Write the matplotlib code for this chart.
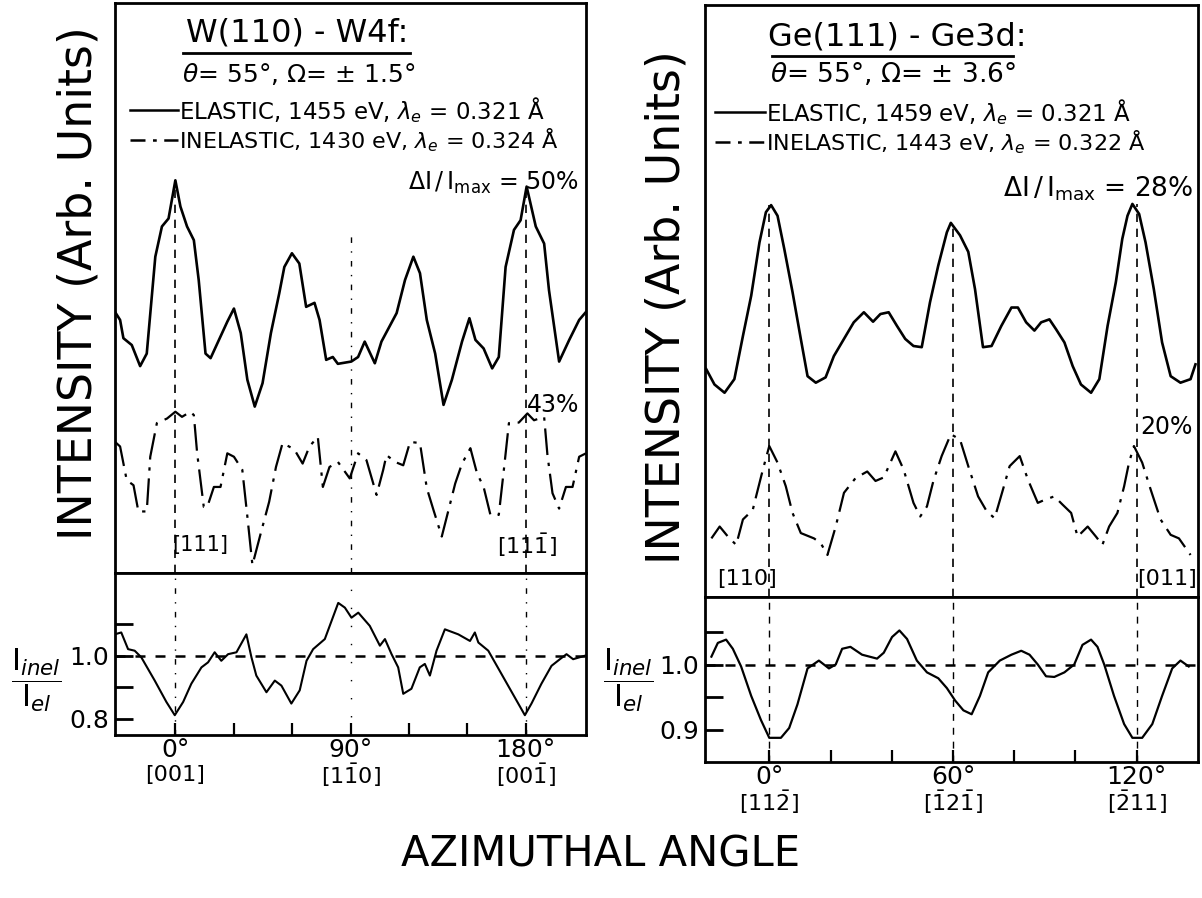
import numpy as np
import matplotlib
matplotlib.use("Agg")
import matplotlib.pyplot as plt
from matplotlib.transforms import blended_transform_factory

plt.rcParams['font.family'] = ['DejaVu Sans']
plt.rcParams['mathtext.fontset'] = 'dejavusans'

# ---- W(110) - W4f : azimuthal scans (arb. units, 0-100) ----
w_el_ang = [-31, -28.4, -26.7, -22.4, -18.1, -14.7, -10.3, -6.9, -3.5, 0, 2.6, 6.0, 9.5, 12.0,
            15.5, 18.1, 22.4, 26.7, 30.1, 33.6, 37.0, 40.8, 44.8, 49.1, 53.4, 56.0, 59.9, 63.7,
            67.2, 71.5, 74.1, 77.5, 80.9, 83.5, 90.4, 93.9, 97.3, 102.5, 105.9, 113.7, 118.0,
            122.3, 125.7, 129.2, 133.5, 137.8, 142.1, 147.3, 151.1, 154.2, 158.4, 162.8, 166.2,
            169.7, 174.0, 177.4, 180.5, 185.2, 189.5, 192.0, 197.2, 202.4, 207.5, 211]
w_el = [45.8, 44.4, 41.2, 40.0, 36.3, 38.5, 55.5, 60.8, 62.2, 68.9, 64.3, 60.8, 58.4, 51.4,
        38.5, 37.7, 40.9, 44.1, 46.4, 42.1, 33.9, 29.2, 33.3, 42.1, 49.1, 53.7, 56.1, 54.3,
        46.7, 47.4, 44.4, 37.4, 37.9, 36.7, 37.1, 37.9, 40.6, 36.8, 40.6, 45.6, 51.4,
        55.5, 52.6, 44.4, 38.5, 29.5, 33.9, 40.6, 44.7, 40.9, 39.4, 35.9, 37.9,
        53.7, 60.2, 61.9, 67.8, 60.8, 57.8, 49.6, 37.1, 40.9, 44.4, 45.8]

w_inel_ang = [-31, -28.4, -25.0, -21.5, -19.0, -14.7, -12.9, -9.5, -4.3, 0, 3.4, 7.8, 9.5, 11.2,
              14.6, 16.4, 19.8, 23.2, 26.7, 30.1, 34.4, 37.0, 39.6, 43.9, 48.2, 51.7, 55.1,
              61.1, 65.4, 68.9, 73.2, 75.8, 79.2, 83.5, 89.6, 93.9, 98.2, 103.4, 106.8, 108.5,
              112.8, 117.1, 120.6, 125.7, 129.2, 132.6, 136.9, 140.4, 143.8, 147.3, 151.6,
              155.0, 158.4, 161.9, 166.2, 168.8, 171.4, 176.5, 180.9, 184.3, 189.5, 191.2,
              193.8, 197.2, 200.7, 204.1, 207.5, 211]
w_inel = [23.0, 22.2, 16.3, 15.4, 10.8, 10.8, 20.4, 26.3, 27.1, 28.3, 27.4, 28.3, 27.7, 21.0,
          11.6, 11.6, 15.1, 15.1, 21.0, 20.4, 18.1, 9.9, 1.4, 7.0, 12.5, 18.6, 22.8,
          21.7, 19.2, 22.2, 23.9, 15.1, 18.6, 19.5, 16.6, 21.0, 19.8, 13.7, 18.1, 20.7,
          19.5, 18.9, 23.0, 22.8, 14.9, 11.1, 6.4, 11.1, 15.7, 19.2, 21.9,
          17.5, 15.1, 10.2, 10.2, 18.1, 26.3, 26.4, 28.0, 26.8, 27.4, 20.7,
          14.0, 11.3, 15.1, 15.1, 20.4, 21.0]

w_ratio_ang = [-31.2, -27.8, -24.3, -20.9, -17.5, -10.6, -4.6, -0.3, 4.0, 8.2, 13.4, 16.8, 20.2,
               23.6, 27.1, 31.4, 36.5, 39.1, 41.6, 46.8, 51.1, 54.5, 59.6, 63.9, 67.4, 70.8,
               76.8, 83.7, 87.1, 90.5, 94.0, 99.9, 105.1, 107.7, 111.1, 114.5, 117.1, 121.3,
               125.6, 128.2, 130.8, 134.2, 138.5, 145.4, 151.4, 153.9, 155.7, 160.8, 179.6,
               183.0, 188.1, 193.3, 197.6, 201.0, 204.4, 210.4]
w_ratio = [1.068, 1.074, 1.021, 1.016, 0.995, 0.921, 0.853, 0.811, 0.853, 0.911, 0.963, 0.979, 1.011,
           0.984, 1.005, 1.011, 1.068, 0.995, 0.937, 0.884, 0.921, 0.905, 0.848, 0.890, 0.984, 1.021,
           1.053, 1.168, 1.153, 1.121, 1.137, 1.095, 1.032, 1.053, 1.005, 0.963, 0.879, 0.895,
           0.963, 0.974, 0.937, 1.016, 1.084, 1.068, 1.047, 1.074, 1.042, 1.016, 0.811,
           0.848, 0.911, 0.968, 0.989, 1.005, 0.989, 1.0]

# ---- Ge(111) - Ge3d ----
ge_el_ang = [-20.6, -17.9, -14.6, -11.4, -8.6, -5.9, -3.2, -1.1, 0.6, 2.7, 4.9, 7.6, 10.3, 12.5,
             15.2, 18.4, 21.1, 24.4, 27.6, 30.9, 33.9, 36.3, 39.0, 41.7, 44.4, 47.1, 49.8, 52.5,
             55.2, 58.0, 59.3, 62.3, 65.0, 67.2, 69.8, 72.6, 75.8, 79.1, 81.2, 83.9, 86.6, 88.8,
             91.5, 93.7, 96.4, 99.1, 101.8, 105.1, 107.8, 110.5, 113.2, 115.3, 117.0, 118.6,
             120.8, 122.9, 125.6, 128.3, 131.1, 134.3, 137.6, 139.2]
ge_el = [38.5, 35.9, 34.5, 36.8, 44.1, 50.9, 59.9, 65.0, 66.2, 64.4, 58.8, 51.5, 43.6, 37.3,
         36.2, 37.1, 40.7, 43.6, 46.4, 48.1, 46.5, 47.8, 48.1, 45.8, 43.6, 42.4, 42.2, 49.8,
         56.0, 61.6, 63.2, 61.1, 58.3, 52.0, 42.2, 42.4, 45.8, 48.9, 48.9, 46.4, 45.0, 46.4,
         46.9, 45.2, 43.0, 39.0, 35.9, 34.5, 36.8, 45.8, 53.2, 60.5, 64.4, 66.4,
         64.7, 59.9, 52.0, 43.0, 37.3, 36.2, 36.8, 39.3]

ge_inel_ang = [-18.9, -16.2, -13.5, -10.8, -8.6, -5.4, -4.3, -2.1, 0, 2.7, 5.4, 7.6, 10.3, 14.6,
               16.8, 19.0, 21.7, 24.4, 28.2, 32.0, 34.7, 37.4, 41.2, 43.9, 47.1, 49.3, 51.5,
               53.6, 56.3, 59.3, 62.3, 65.0, 68.2, 71.0, 73.6, 76.3, 78.5, 81.8, 84.5, 87.7,
               89.9, 93.1, 95.8, 98.6, 100.7, 104.0, 106.7, 108.8, 111.0, 113.7, 115.9, 117.5,
               119.1, 121.8, 124.6, 127.8, 131.1, 133.8, 137.6]
ge_inel = [9.9, 11.9, 10.2, 8.8, 13.1, 14.7, 17.0, 21.5, 25.5, 22.7, 18.7, 14.2, 10.8, 9.9,
           9.1, 7.1, 11.9, 17.6, 20.1, 21.2, 19.6, 20.2, 24.6, 21.5, 15.9, 13.6, 15.3,
           19.6, 23.8, 27.5, 26.6, 22.1, 17.0, 14.5, 13.3, 18.1, 22.1, 23.8, 19.8, 15.9,
           16.4, 17.0, 15.6, 14.2, 10.2, 11.9, 10.2, 8.8, 11.9, 14.2, 18.7, 22.7,
           25.5, 22.7, 18.1, 13.1, 10.5, 9.9, 7.1]

ge_ratio_ang = [-18.9, -16.8, -14.1, -11.9, -9.2, -5.9, -2.7, 0, 3.8, 6.5, 9.2, 12.5, 16.2, 19.5,
                21.7, 23.8, 26.5, 30.3, 35.2, 37.4, 40.1, 42.5, 45.0, 48.2, 51.5, 55.2, 58.0,
                60.7, 63.4, 66.1, 68.8, 71.5, 75.3, 79.1, 82.3, 85.0, 87.7, 90.4, 93.1, 96.4,
                99.6, 102.3, 105.1, 107.2, 109.4, 112.6, 115.9, 118.6, 121.8, 125.1, 128.3,
                131.6, 134.3, 137.0]
ge_ratio = [1.012, 1.033, 1.038, 1.024, 0.997, 0.952, 0.915, 0.888, 0.888, 0.903, 0.939, 0.994,
            1.006, 0.994, 1.0, 1.024, 1.027, 1.015, 1.009, 1.018, 1.042, 1.052, 1.039, 1.006,
            0.988, 0.979, 0.964, 0.945, 0.930, 0.924, 0.952, 0.988, 1.006, 1.015, 1.021, 1.015,
            1.0, 0.982, 0.981, 0.988, 1.0, 1.030, 1.038, 1.027, 1.0, 0.952, 0.909, 0.888,
            0.888, 0.909, 0.952, 0.994, 1.006, 0.997]

# reference azimuths and their labels
w_marks = [0, 90, 180]
w_dirs = ['[001]', r'$[1\bar{1}0]$', r'$[00\bar{1}]$']
ge_marks = [0, 60, 120]
ge_dirs = [r'$[11\bar{2}]$', r'$[\bar{1}2\bar{1}]$', r'$[\bar{2}11]$']

INEL_DASH = (0, (12, 3.5, 1.5, 3.5))
RATIO_LBL = r'$\dfrac{\mathrm{I}_{inel}}{\mathrm{I}_{el}}$'

fig = plt.figure(figsize=(12.02, 8.98), dpi=100)
ax_wt = fig.add_axes([0.0957, 0.3619, 0.3918, 0.6347])
ax_wb = fig.add_axes([0.0957, 0.1815, 0.3918, 0.1804])
ax_gt = fig.add_axes([0.5865, 0.3352, 0.4101, 0.6592])
ax_gb = fig.add_axes([0.5865, 0.1514, 0.4101, 0.1837])

for ax in (ax_wt, ax_wb, ax_gt, ax_gb):
    for s in ax.spines.values():
        s.set_linewidth(2)

# ---------------- left top ----------------
ax_wt.plot(w_el_ang, w_el, color='black', lw=1.9)
ax_wt.plot(w_inel_ang, w_inel, color='black', lw=1.6, linestyle=INEL_DASH)
ax_wt.vlines([0, 180], 0, [68.9, 67.8], colors='black', lw=1.2, linestyles=(0, (5, 4)))
ax_wt.vlines([90], 0, 60, colors='black', lw=1.0, linestyles=(0, (4, 6, 1, 6)))
ax_wt.set_xlim(-31, 211)
ax_wt.set_ylim(0, 100)
ax_wt.set_xticks([])
ax_wt.set_yticks([])

t = ax_wt.transAxes
ax_wt.text(0.386, 0.947, 'W(110) - W4f:', transform=t, ha='center', va='center', fontsize=23)
ax_wt.plot([0.144, 0.626], [0.912, 0.912], transform=t, color='black', lw=2)
ax_wt.text(0.389, 0.875, r'$\theta$= 55°, $\Omega$= ± 1.5°', transform=t,
           ha='center', va='center', fontsize=18)
ax_wt.plot([0.032, 0.134], [0.812, 0.812], transform=t, color='black', lw=1.8)
ax_wt.text(0.136, 0.812, r'ELASTIC, 1455 eV, $\lambda_e$ = 0.321 Å', transform=t,
           ha='left', va='center', fontsize=16.5)
ax_wt.plot([0.032, 0.134], [0.760, 0.760], transform=t, color='black', lw=1.8, linestyle=(0, (6, 3, 1.5, 3)))
ax_wt.text(0.136, 0.760, r'INELASTIC, 1430 eV, $\lambda_e$ = 0.324 Å', transform=t,
           ha='left', va='center', fontsize=16)
ax_wt.text(0.985, 0.684, r'$\Delta\mathrm{I}\,/\,\mathrm{I}_{\mathrm{max}}$ = 50%', transform=t,
           ha='right', va='center', fontsize=17)
ax_wt.text(0.985, 0.295, '43%', transform=t, ha='right', va='center', fontsize=17)
ax_wt.text(0.180, 0.049, '[111]', transform=t, ha='center', va='center', fontsize=15)
ax_wt.text(0.875, 0.049, r'$[11\bar{1}]$', transform=t, ha='center', va='center', fontsize=16)

# ---------------- left bottom ----------------
ax_wb.plot(w_ratio_ang, w_ratio, color='black', lw=1.5)
ax_wb.axhline(1.0, color='black', lw=1.8, linestyle=(0, (4, 4)))
ax_wb.vlines([0, 180], 0.748, 1.263, colors='black', lw=1.0, linestyles=(0, (4, 6, 1, 6)))
ax_wb.vlines([90], 0.748, 1.263, colors='black', lw=1.0, linestyles=(0, (1, 12)))
ax_wb.set_xlim(-31, 211)
ax_wb.set_ylim(0.748, 1.263)
ax_wb.set_xticks([0, 30, 60, 90, 120, 150, 180])
ax_wb.set_xticklabels(['0°', '', '', '90°', '', '', '180°'], fontsize=18)
ax_wb.set_yticks([0.8, 0.9, 1.0, 1.1])
ax_wb.set_yticklabels(['0.8', '', '1.0', ''], fontsize=18)
ax_wb.tick_params(axis='x', direction='in', length=9, width=1.6, pad=2)
ax_wb.tick_params(axis='y', direction='in', length=13, width=2, pad=4)
bt = blended_transform_factory(ax_wb.transData, ax_wb.transAxes)
for a, lab in zip(w_marks, w_dirs):
    ax_wb.annotate(lab, xy=(a, 0), xycoords=bt, xytext=(0, -29), textcoords='offset points',
                   ha='center', va='center', fontsize=16)

# ---------------- right top ----------------
ax_gt.plot(ge_el_ang, ge_el, color='black', lw=1.9)
ax_gt.plot(ge_inel_ang, ge_inel, color='black', lw=1.6, linestyle=INEL_DASH)
ax_gt.vlines(ge_marks, 0, [66.2, 63.2, 66.4], colors='black', lw=1.2, linestyles=(0, (5, 4)))
ax_gt.set_xlim(-21, 140)
ax_gt.set_ylim(0, 100)
ax_gt.set_xticks([])
ax_gt.set_yticks([])

t = ax_gt.transAxes
ax_gt.text(0.39, 0.946, 'Ge(111) - Ge3d:', transform=t, ha='center', va='center', fontsize=23)
ax_gt.plot([0.135, 0.625], [0.914, 0.914], transform=t, color='black', lw=2)
ax_gt.text(0.381, 0.882, r'$\theta$= 55°, $\Omega$= ± 3.6°', transform=t,
           ha='center', va='center', fontsize=19)
ax_gt.plot([0.020, 0.122], [0.820, 0.820], transform=t, color='black', lw=1.8)
ax_gt.text(0.124, 0.820, r'ELASTIC, 1459 eV, $\lambda_e$ = 0.321 Å', transform=t,
           ha='left', va='center', fontsize=16.5)
ax_gt.plot([0.020, 0.122], [0.768, 0.768], transform=t, color='black', lw=1.8, linestyle=(0, (6, 3, 1.5, 3)))
ax_gt.text(0.124, 0.768, r'INELASTIC, 1443 eV, $\lambda_e$ = 0.322 Å', transform=t,
           ha='left', va='center', fontsize=16)
ax_gt.text(0.99, 0.690, r'$\Delta\mathrm{I}\,/\,\mathrm{I}_{\mathrm{max}}$ = 28%', transform=t,
           ha='right', va='center', fontsize=19)
ax_gt.text(0.99, 0.287, '20%', transform=t, ha='right', va='center', fontsize=17)
ax_gt.text(0.085, 0.030, '[110]', transform=t, ha='center', va='center', fontsize=16)
ax_gt.text(0.937, 0.030, '[011]', transform=t, ha='center', va='center', fontsize=16)

# ---------------- right bottom ----------------
ax_gb.plot(ge_ratio_ang, ge_ratio, color='black', lw=1.6)
ax_gb.axhline(1.0, color='black', lw=1.8, linestyle=(0, (4, 4)))
ax_gb.vlines(ge_marks, 0.851, 1.103, colors='black', lw=1.0, linestyles=(0, (5, 5)))
ax_gb.set_xlim(-21, 140)
ax_gb.set_ylim(0.851, 1.103)
ax_gb.set_xticks([0, 20, 40, 60, 80, 100, 120])
ax_gb.set_xticklabels(['0°', '', '', '60°', '', '', '120°'], fontsize=18)
ax_gb.set_yticks([0.9, 0.95, 1.0, 1.05])
ax_gb.set_yticklabels(['0.9', '', '1.0', ''], fontsize=18)
ax_gb.tick_params(axis='x', direction='in', length=9, width=1.6, pad=2)
ax_gb.tick_params(axis='y', direction='in', length=13, width=2, pad=4)
bt = blended_transform_factory(ax_gb.transData, ax_gb.transAxes)
for a, lab in zip(ge_marks, ge_dirs):
    ax_gb.annotate(lab, xy=(a, 0), xycoords=bt, xytext=(0, -29), textcoords='offset points',
                   ha='center', va='center', fontsize=16)

# ---------------- shared labels ----------------
fig.text(0.066, 0.685, 'INTENSITY (Arb. Units)', rotation=90, ha='center', va='center', fontsize=33)
fig.text(0.555, 0.658, 'INTENSITY (Arb. Units)', rotation=90, ha='center', va='center', fontsize=33)
fig.text(0.030, 0.243, RATIO_LBL, ha='center', va='center', fontsize=22)
fig.text(0.523, 0.243, RATIO_LBL, ha='center', va='center', fontsize=22)
fig.text(0.5, 0.048, 'AZIMUTHAL ANGLE', ha='center', va='center', fontsize=30)

fig.savefig('out.png', dpi=100)
